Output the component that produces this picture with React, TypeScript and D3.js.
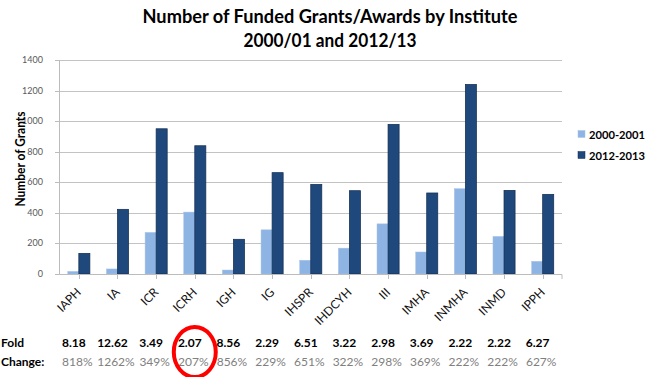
import React from "react";
import * as d3 from "d3";

const categories = ["IAPH", "IA", "ICR", "ICRH", "IGH", "IG", "IHSPR", "IHDCYH", "III", "IMHA", "INMHA", "INMD", "IPPH"];
const grants2000 = [17, 33, 272, 405, 26, 289, 90, 169, 328, 144, 558, 246, 83];
const grants2012 = [135, 423, 950, 839, 227, 663, 586, 545, 979, 530, 1240, 547, 521];
const foldChange = ["8.18", "12.62", "3.49", "2.07", "8.56", "2.29", "6.51", "3.22", "2.98", "3.69", "2.22", "2.22", "6.27"];
const pctChange = ["818%", "1262%", "349%", "207%", "856%", "229%", "651%", "322%", "298%", "369%", "222%", "222%", "627%"];
const seriesNames = ["2000-2001", "2012-2013"];
const yTicks = [0, 200, 400, 600, 800, 1000, 1200, 1400];
const highlighted = "ICRH";

const W = 650;
const H = 377;
const FONT = "Lato, 'Open Sans', sans-serif";
const LIGHT = "#8db4e2";
const DARK = "#1f497d";

export default function App() {
  const x = d3.scaleBand<string>().domain(categories).range([59.5, 562]);
  const y = d3.scaleLinear().domain([0, 1400]).range([274, 60]);
  const step = x.step();
  const barW = step / 3.5;
  const cx = (c: string) => (x(c) as number) + step / 2;
  const hx = cx(highlighted);

  return (
    <div style={{ position: "absolute", left: 0, top: 0 }}>
      <svg width={W} height={H} style={{ display: "block", background: "#fff", fontFamily: FONT }}>
        {/* Title */}
        <text x={330} y={23} textAnchor="middle" fontSize={18} fontWeight="bold" fill="#000" textLength={375} lengthAdjust="spacingAndGlyphs">
          Number of Funded Grants/Awards by Institute
        </text>
        <text x={330} y={47} textAnchor="middle" fontSize={18} fontWeight="bold" fill="#000" textLength={173} lengthAdjust="spacingAndGlyphs">
          2000/01 and 2012/13
        </text>

        {/* Gridlines */}
        {yTicks.map((t) => (
          <line key={"g" + t} x1={59.5} x2={562} y1={Math.round(y(t)) + 0.5} y2={Math.round(y(t)) + 0.5} stroke="#c3c3c3" strokeWidth={1} />
        ))}
        {/* Y axis */}
        <line x1={59.5} x2={59.5} y1={60} y2={274.5} stroke="#bcbcbc" />
        {yTicks.map((t) => (
          <g key={"yt" + t}>
            <line x1={55} x2={59.5} y1={Math.round(y(t)) + 0.5} y2={Math.round(y(t)) + 0.5} stroke="#bcbcbc" />
            <text x={43} y={y(t) + 3} textAnchor="end" fontSize={9} fill="#595959">{t}</text>
          </g>
        ))}
        <text
          transform={`translate(25,159) rotate(-90)`}
          textAnchor="middle"
          fontSize={14}
          fontWeight="bold"
          fill="#000"
          textLength={95}
          lengthAdjust="spacingAndGlyphs"
        >
          Number of Grants
        </text>

        {/* Bars */}
        {categories.map((c, i) => (
          <g key={"b" + c}>
            <rect x={cx(c) - barW} y={y(grants2000[i])} width={barW} height={y(0) - y(grants2000[i])} fill={LIGHT} stroke="#a9c4e8" strokeWidth={0.5} />
            <rect x={cx(c)} y={y(grants2012[i])} width={barW} height={y(0) - y(grants2012[i])} fill={DARK} stroke="#142f52" strokeWidth={0.75} />
          </g>
        ))}

        {/* X axis */}
        <line x1={59.5} x2={562} y1={274.5} y2={274.5} stroke="#bcbcbc" />
        {categories.map((c) => (
          <line key={"xt" + c} x1={Math.round(cx(c)) + 0.5} x2={Math.round(cx(c)) + 0.5} y1={274.5} y2={279} stroke="#bcbcbc" />
        ))}
        <line x1={562} x2={562} y1={274.5} y2={279} stroke="#bcbcbc" />
        {categories.map((c) => (
          <text key={"xl" + c} transform={`translate(${cx(c) + 3},${293}) rotate(-45)`} textAnchor="end" fontSize={12} fill="#111">
            {c}
          </text>
        ))}

        {/* Legend */}
        {seriesNames.map((s, i) => (
          <g key={"lg" + s} transform={`translate(578,${134 + i * 21})`}>
            <rect x={0} y={-3.5} width={7} height={7} fill={i === 0 ? LIGHT : DARK} stroke={i === 0 ? "#a9c4e8" : "#142f52"} strokeWidth={0.5} />
            <text x={11} y={4.5} fontSize={12} fontWeight="bold" fill="#000" textLength={56} lengthAdjust="spacingAndGlyphs">{s}</text>
          </g>
        ))}

        {/* Fold change rows */}
        <text x={1} y={347} fontSize={12} fontWeight="bold" fill="#000">Fold</text>
        <text x={1} y={366} fontSize={12} fontWeight="bold" fill="#000">Change:</text>
        {categories.map((c, i) => (
          <g key={"fc" + c}>
            <text x={cx(c) - 5} y={347} textAnchor="middle" fontSize={12} fontWeight="bold" fill="#000">{foldChange[i]}</text>
            <text x={cx(c) - 1.5} y={366} textAnchor="middle" fontSize={12} fill="#808080">{pctChange[i]}</text>
          </g>
        ))}
        <ellipse cx={hx} cy={352} rx={21} ry={25} fill="none" stroke="#ff0000" strokeWidth={4} />
      </svg>
    </div>
  );
}
